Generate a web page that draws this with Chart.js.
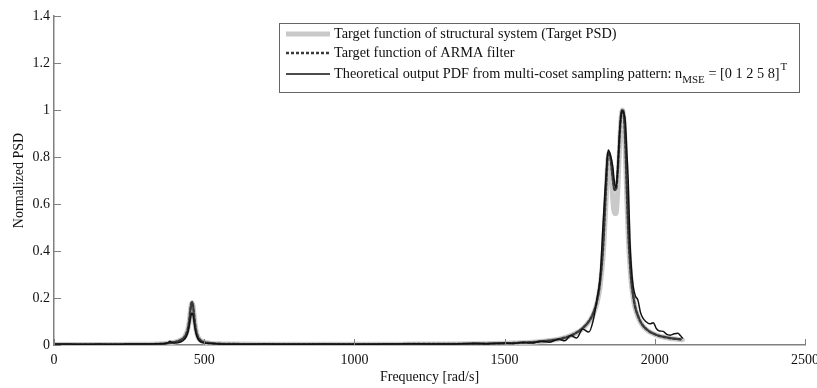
<!DOCTYPE html>
<html>
<head>
<meta charset="utf-8">
<script src="https://cdn.jsdelivr.net/npm/chart.js@4.4.1/dist/chart.umd.min.js"></script>
<style>
html,body{margin:0;padding:0;background:#fff;overflow:hidden;}
#wrap{width:826px;height:388px;position:relative;}
</style>
</head>
<body>
<div id="wrap"><canvas id="c" width="826" height="388"></canvas></div>
<script>
// ---- data ----
const freq = [0,50,100,150,200,250,300,340,370,380,386,392,400,420,435,445,450,454,457,460,463,466,470,475,482,490,500,520,550,600,700,800,900,1000,1100,1200,1300,1400,1450,1500,1530,1560,1590,1620,1650,1680,1700,1720,1740,1760,1780,1795,1808,1818,1828,1838,1845,1852,1860,1866,1871,1876,1882,1887,1892,1897,1902,1907,1912,1917,1922,1928,1935,1944,1952,1960,1970,1984,1995,2005,2015,2028,2040,2052,2065,2077,2085,2092];

const targetPSD = [0.002,0.002,0.002,0.002,0.002,0.003,0.003,0.004,0.006,0.008,0.009,0.010,0.012,0.02,0.035,0.065,0.10,0.145,0.172,0.18,0.165,0.13,0.085,0.05,0.028,0.018,0.012,0.008,0.005,0.004,0.003,0.003,0.003,0.003,0.003,0.004,0.004,0.005,0.006,0.007,0.008,0.01,0.012,0.015,0.019,0.025,0.031,0.04,0.052,0.07,0.098,0.13,0.18,0.25,0.38,0.62,0.80,0.78,0.62,0.56,0.56,0.64,0.82,0.95,1.0,0.96,0.82,0.62,0.45,0.34,0.26,0.2,0.155,0.12,0.098,0.082,0.068,0.055,0.048,0.042,0.038,0.034,0.031,0.028,0.026,0.024,0.023,0.022];

const armaFilter = [0.002,0.002,0.002,0.002,0.002,0.003,0.003,0.004,0.006,0.008,0.009,0.010,0.012,0.02,0.035,0.065,0.10,0.148,0.175,0.182,0.165,0.13,0.085,0.05,0.028,0.018,0.012,0.008,0.005,0.004,0.003,0.003,0.003,0.003,0.003,0.004,0.004,0.005,0.006,0.007,0.008,0.01,0.012,0.015,0.019,0.025,0.031,0.04,0.053,0.072,0.1,0.135,0.19,0.27,0.42,0.68,0.82,0.80,0.71,0.66,0.665,0.73,0.87,0.97,1.0,0.98,0.86,0.66,0.48,0.36,0.27,0.21,0.16,0.124,0.1,0.084,0.07,0.056,0.049,0.043,0.039,0.035,0.032,0.029,0.027,0.025,0.024,0.023];

const theoreticalOutput = [0.004,0.004,0.003,0.004,0.003,0.004,0.004,0.005,0.006,0.01,0.016,0.012,0.008,0.012,0.025,0.05,0.08,0.11,0.13,0.136,0.125,0.1,0.065,0.038,0.02,0.012,0.008,0.006,0.004,0.003,0.004,0.003,0.004,0.003,0.004,0.005,0.004,0.007,0.005,0.009,0.006,0.012,0.008,0.016,0.012,0.025,0.018,0.04,0.03,0.068,0.055,0.105,0.2,0.29,0.52,0.73,0.83,0.81,0.76,0.69,0.67,0.74,0.89,0.97,0.997,0.985,0.95,0.82,0.68,0.45,0.33,0.25,0.21,0.19,0.14,0.115,0.1,0.09,0.095,0.07,0.06,0.058,0.045,0.042,0.048,0.05,0.04,0.03];

const xTicks = [0,500,1000,1500,2000,2500];
const yTicks = [0,0.2,0.4,0.6,0.8,1,1.2,1.4];
const legendLabels = ["Target function of structural system (Target PSD)","Target function of ARMA filter","Theoretical output PDF from multi-coset sampling pattern: n"];

const FONT = "'Liberation Serif','Times New Roman',serif";
const AXIS = '#808080';

function pts(ys){ return freq.map((x,i)=>({x:x,y:ys[i]})); }

const innerTicks = {
  id:'innerTicks',
  afterDraw(chart){
    const ctx = chart.ctx, xs = chart.scales.x, ys = chart.scales.y, a = chart.chartArea;
    ctx.save();
    ctx.strokeStyle = AXIS; ctx.lineWidth = 1;
    ctx.beginPath();
    xTicks.forEach(v=>{ const px = Math.round(xs.getPixelForValue(v))+0.5; ctx.moveTo(px,a.bottom); ctx.lineTo(px,a.bottom-6); });
    yTicks.forEach(v=>{ const py = Math.round(ys.getPixelForValue(v))+0.5; ctx.moveTo(a.left,py); ctx.lineTo(a.left+7,py); });
    ctx.stroke();
    ctx.restore();
  }
};

const boxLegend = {
  id:'boxLegend',
  afterDraw(chart){
    const ctx = chart.ctx;
    const bx=279, by=23, bw=520, bh=69;
    ctx.save();
    ctx.fillStyle='#fff'; ctx.fillRect(bx,by,bw,bh);
    ctx.strokeStyle='#666'; ctx.lineWidth=1; ctx.strokeRect(bx+0.5,by+0.5,bw,bh);
    const rows=[34,53,74];
    const ds = chart.data.datasets;
    for(let i=0;i<3;i++){
      const d = ds[i];
      ctx.beginPath();
      ctx.strokeStyle=d.borderColor; ctx.lineWidth=d.borderWidth;
      ctx.setLineDash(d.borderDash||[]);
      ctx.moveTo(286,rows[i]); ctx.lineTo(330,rows[i]); ctx.stroke();
      ctx.setLineDash([]);
    }
    ctx.fillStyle='#111'; ctx.textBaseline='middle'; ctx.textAlign='left';
    ctx.font='14.3px '+FONT;
    ctx.fillText(legendLabels[0],334,rows[0]);
    ctx.fillText(legendLabels[1],334,rows[1]);
    let x=334;
    ctx.fillText(legendLabels[2],x,rows[2]); x+=ctx.measureText(legendLabels[2]).width;
    ctx.font='11px '+FONT; ctx.fillText('MSE',x,rows[2]+6); x+=ctx.measureText('MSE').width;
    ctx.font='14.3px '+FONT; const s=' = [0 1 2 5 8]'; ctx.fillText(s,x,rows[2]); x+=ctx.measureText(s).width;
    ctx.font='11px '+FONT; ctx.fillText('T',x+1,rows[2]-7);
    ctx.restore();
  }
};

new Chart(document.getElementById('c'),{
  type:'line',
  data:{datasets:[
    {label:legendLabels[0],data:pts(targetPSD),borderColor:'#c9c9c9',borderWidth:5,order:3},
    {label:legendLabels[1],data:pts(armaFilter),borderColor:'#3a3a3a',borderWidth:2.5,borderDash:[3,2],order:2},
    {label:legendLabels[2]+'MSE = [0 1 2 5 8]T',data:pts(theoreticalOutput),borderColor:'#111',borderWidth:1.5,order:1}
  ]},
  options:{
    responsive:false,animation:false,
    parsing:false,
    elements:{point:{radius:0},line:{cubicInterpolationMode:'monotone',borderCapStyle:'round',borderJoinStyle:'round'}},
    layout:{padding:{top:16,right:13,left:0,bottom:0}},
    plugins:{legend:{display:false},tooltip:{enabled:false}},
    scales:{
      x:{type:'linear',min:0,max:2500,
        afterBuildTicks(s){ s.ticks = xTicks.map(v=>({value:v})); },
        afterFit(s){ s.height = 43; },
        grid:{display:false,drawTicks:false},
        border:{display:true,color:AXIS,width:1.5},
        ticks:{color:'#111',font:{family:FONT,size:14},padding:7,maxRotation:0,callback:v=>String(v)},
        title:{display:true,text:'Frequency [rad/s]',color:'#111',font:{family:FONT,size:14},padding:{top:0,bottom:2}}
      },
      y:{type:'linear',min:0,max:1.4,
        afterBuildTicks(s){ s.ticks = yTicks.map(v=>({value:v})); },
        afterFit(s){ s.width = 54; },
        grid:{display:false,drawTicks:false},
        border:{display:true,color:AXIS,width:1.5},
        ticks:{color:'#111',font:{family:FONT,size:14},padding:4,callback:v=>String(Number(v.toFixed(1)))},
        title:{display:true,text:'Normalized PSD',color:'#111',font:{family:FONT,size:14},padding:{top:11,bottom:0}}
      }
    }
  },
  plugins:[innerTicks,boxLegend]
});
</script>
</body>
</html>
